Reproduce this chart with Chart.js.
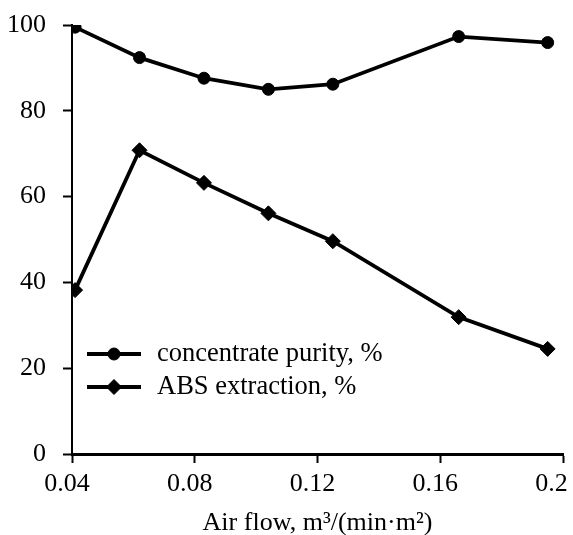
<!DOCTYPE html>
<html>
<head>
<meta charset="utf-8">
<script src="https://cdn.jsdelivr.net/npm/chart.js@4/dist/chart.umd.min.js"></script>
<style>
  html, body { margin: 0; padding: 0; background: #fff; }
  #wrap { width: 573px; height: 535px; }
</style>
</head>
<body>
<div id="wrap"><canvas id="grafico" width="573" height="535"></canvas></div>
<script>
const airFlow = [0.041, 0.062, 0.083, 0.104, 0.125, 0.166, 0.195];
const purity = [99.5, 92.4, 87.6, 85.0, 86.2, 97.3, 95.9];
const absExtraction = [38.2, 70.8, 63.2, 56.1, 49.6, 31.9, 24.5];
const seriesNames = ["concentrate purity, %", "ABS extraction, %"];
const xTitle = "Air flow, m\u00b3/(min\u00b7m\u00b2)";

const fonte = "Liberation Serif, Times New Roman, serif";

function pontos(ys) {
  return airFlow.map((x, i) => ({x: x, y: ys[i]}));
}

// legenda desenhada dentro da area do grafico (linha + marcador + texto)
const legendaInterna = {
  id: "legendaInterna",
  afterDraw(chart) {
    const ctx = chart.ctx;
    const area = chart.chartArea;
    chart.data.datasets.forEach((ds, i) => {
      const y = 354 + i * 33;
      const x0 = area.left + 15;
      ctx.save();
      ctx.strokeStyle = "#000";
      ctx.fillStyle = "#000";
      ctx.lineWidth = 3.8;
      ctx.beginPath();
      ctx.moveTo(x0, y);
      ctx.lineTo(x0 + 54, y);
      ctx.stroke();
      ctx.lineWidth = 1;
      Chart.helpers.drawPoint(ctx, {pointStyle: ds.pointStyle, radius: ds.pointRadius, rotation: 0, borderWidth: 1}, x0 + 27, y);
      ctx.font = "26.5px " + fonte;
      ctx.textBaseline = "middle";
      ctx.textAlign = "left";
      ctx.fillText(ds.label, x0 + 70, y);
      ctx.restore();
    });
  }
};

new Chart(document.getElementById("grafico"), {
  type: "line",
  data: {
    datasets: [
      {label: seriesNames[0], data: pontos(purity), borderColor: "#000", backgroundColor: "#000",
       borderWidth: 3.8, pointStyle: "circle", pointRadius: 6, pointBorderWidth: 1, tension: 0},
      {label: seriesNames[1], data: pontos(absExtraction), borderColor: "#000", backgroundColor: "#000",
       borderWidth: 3.8, pointStyle: "rectRot", pointRadius: 7.5, pointBorderWidth: 1, tension: 0}
    ]
  },
  options: {
    responsive: false,
    animation: false,
    layout: {padding: {top: 25, right: 10, left: 0, bottom: 0}},
    plugins: {legend: {display: false}, tooltip: {enabled: false}},
    scales: {
      x: {
        type: "linear", min: 0.04, max: 0.2,
        grid: {drawOnChartArea: false, drawTicks: true, tickLength: 9, tickWidth: 2, tickColor: "#000"},
        border: {color: "#000", width: 3},
        ticks: {
          stepSize: 0.04, color: "#000", padding: 6, maxRotation: 0, labelOffset: -5,
          font: {family: fonte, size: 26},
          callback: v => {
            const t = String(+v.toFixed(2));
            return t === "0.2" ? t + "  " : t;
          }
        },
        title: {display: true, text: xTitle, color: "#000", font: {family: fonte, size: 26}, padding: {top: 0, bottom: -4}},
        afterFit: s => { s.height = 81; s.paddingLeft = 0; s.paddingRight = 0; }
      },
      y: {
        min: 0, max: 100,
        grid: {drawOnChartArea: false, drawTicks: true, tickLength: 9, tickWidth: 2, tickColor: "#000"},
        border: {color: "#000", width: 2},
        ticks: {stepSize: 20, color: "#000", padding: 17, font: {family: fonte, size: 26}},
        afterFit: s => { s.width = 72; s.paddingTop = 0; s.paddingBottom = 0; }
      }
    }
  },
  plugins: [legendaInterna]
});
</script>
</body>
</html>
